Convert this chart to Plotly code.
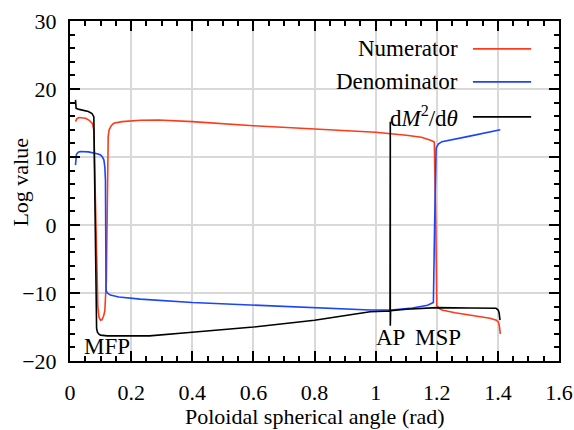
import plotly.graph_objects as go

# ---- data ----
num_x = [0.018, 0.022, 0.029, 0.040, 0.051, 0.063, 0.073, 0.078, 0.091, 0.095, 0.100, 0.105,
         0.110, 0.114, 0.119, 0.125, 0.128, 0.135, 0.143, 0.17, 0.23, 0.29, 0.4, 0.6, 0.8,
         1.0, 1.1, 1.15, 1.18, 1.192, 1.197, 1.200, 1.205, 1.217, 1.26, 1.309, 1.374, 1.395,
         1.402, 1.405, 1.408]
num_y = [15.2, 15.6, 15.8, 15.8, 15.7, 15.4, 14.95, 14.0, -12.0, -13.6, -14.0, -13.9,
         -13.4, -12.6, -8.1, 13.0, 14.0, 14.6, 14.95, 15.2, 15.4, 15.45, 15.2, 14.6, 14.15,
         13.65, 13.2, 12.9, 12.45, 12.2, 0.0, -11.8, -12.2, -12.5, -12.9, -13.2, -13.7, -14.0,
         -14.3, -14.9, -16.0]

den_x = [0.018, 0.019, 0.021, 0.027, 0.034, 0.06, 0.078, 0.092, 0.100, 0.106, 0.111, 0.114,
         0.116, 0.118, 0.122, 0.132, 0.16, 0.23, 0.4, 0.6, 0.8, 0.982, 1.05, 1.12, 1.17,
         1.189, 1.193, 1.198, 1.205, 1.217, 1.3, 1.374, 1.408]
den_y = [8.8, 9.8, 10.4, 10.7, 10.8, 10.75, 10.6, 10.45, 10.3, 10.0, 9.55, 8.5,
         6.6, -9.6, -10.0, -10.3, -10.6, -10.9, -11.4, -11.8, -12.1, -12.5, -12.5, -12.2, -11.8,
         -11.4, 0.0, 11.3, 11.9, 12.25, 13.0, 13.7, 14.0]

dm_x = [0.018, 0.018, 0.020, 0.030, 0.045, 0.060, 0.072, 0.078, 0.087, 0.090, 0.094, 0.100,
        0.122, 0.2, 0.26, 0.39, 0.6, 0.8, 0.982, 1.047, 1.048, 1.048, 1.049, 1.1, 1.2,
        1.309, 1.394, 1.401, 1.404, 1.407]
dm_y = [18.4, 17.3, 17.15, 17.0, 16.9, 16.7, 16.4, 15.9, -15.2, -15.8, -16.0, -16.2,
        -16.3, -16.35, -16.3, -15.8, -15.0, -14.0, -12.75, -12.65, 15.2, -14.8, -12.6, -12.4, -12.15,
        -12.2, -12.25, -12.5, -12.9, -14.0]

x_ticks = [0, 0.2, 0.4, 0.6, 0.8, 1.0, 1.2, 1.4, 1.6]
x_tick_text = ["0", "0.2", "0.4", "0.6", "0.8", "1", "1.2", "1.4", "1.6"]
y_ticks = [-20, -10, 0, 10, 20, 30]

point_labels = ["MFP", "AP", "MSP"]
point_x = [0.12, 1.05, 1.203]
point_y = [-17.8, -16.6, -16.6]

series_names = ["Numerator", "Denominator", "d<i>M</i><sup>2</sup>/d<i>θ</i>"]
series_colors = ["#ff3a1a", "#1a44ff", "#000000"]

FONT = "Liberation Serif"
fig = go.Figure()
for xs, ys, col in zip([num_x, den_x, dm_x], [num_y, den_y, dm_y], series_colors):
    fig.add_trace(go.Scatter(x=xs, y=ys, mode="lines", line=dict(color=col, width=1.6),
                             showlegend=False, hoverinfo="skip"))

# legend drawn manually (text right, line on the right)
leg_y = [0.918, 0.821, 0.718]
for name, col, yy in zip(series_names, series_colors, leg_y):
    fig.add_annotation(x=0.798, y=yy, xref="paper", yref="paper", text=name, showarrow=False,
                       xanchor="right", yanchor="middle", font=dict(family=FONT, size=23, color="black"))
    fig.add_shape(type="line", xref="paper", yref="paper", x0=0.824, x1=0.943, y0=yy, y1=yy,
                  line=dict(color=col, width=1.6))

for t, px, py in zip(point_labels, point_x, point_y):
    fig.add_annotation(x=px, y=py, text=t, showarrow=False, xanchor="center", yanchor="middle",
                       font=dict(family=FONT, size=23, color="black"))

fig.add_annotation(x=-0.102, y=0.525, xref="paper", yref="paper", text="Log value", textangle=-90,
                   showarrow=False, xanchor="center", yanchor="middle", font=dict(family=FONT, size=22, color="black"))
fig.add_annotation(x=0.5, y=-0.162, xref="paper", yref="paper", text="Poloidal spherical angle (rad)",
                   showarrow=False, xanchor="center", yanchor="middle", font=dict(family=FONT, size=22, color="black"))

axis_common = dict(showline=True, linecolor="black", linewidth=2, mirror="ticks", ticks="inside",
                   ticklen=10, tickwidth=1.5, tickcolor="black", showgrid=True, gridcolor="#d9d9d9",
                   gridwidth=1.5, zeroline=False, automargin=False,
                   tickfont=dict(family=FONT, size=22, color="black"))
fig.update_xaxes(range=[0, 1.6], tickvals=x_ticks, ticktext=x_tick_text, ticklabelstandoff=11,
                 minor=dict(dtick=0.05, ticks="inside", ticklen=5, tickwidth=1.5, tickcolor="black", showgrid=False),
                 **axis_common)
fig.update_yaxes(range=[-20, 30], tickvals=y_ticks, ticklabelstandoff=7,
                 minor=dict(dtick=2, ticks="inside", ticklen=5, tickwidth=1.5, tickcolor="black", showgrid=False),
                 **axis_common)
fig.update_layout(width=574, height=430, margin=dict(l=69.5, r=15, t=21, b=69),
                  plot_bgcolor="white", paper_bgcolor="white", showlegend=False)
fig.write_html("out.html")
